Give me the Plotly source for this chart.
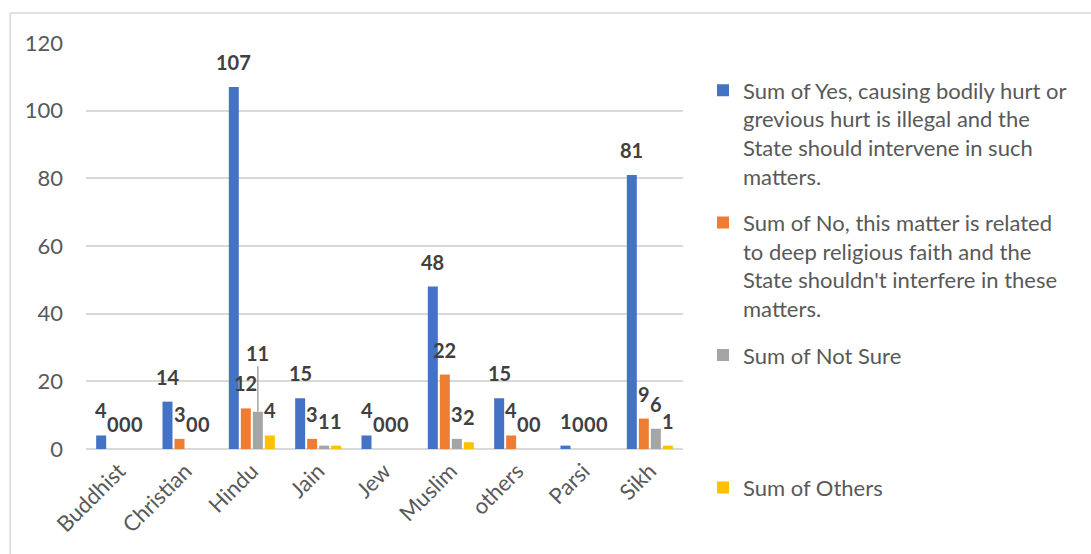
import plotly.graph_objects as go

# Survey responses by religion
religions = ["Buddhist", "Christian", "Hindu", "Jain", "Jew", "Muslim", "others", "Parsi", "Sikh"]
yes_vals = [4, 14, 107, 15, 4, 48, 15, 1, 81]
no_vals = [0, 3, 12, 3, 0, 22, 4, 0, 9]
not_sure_vals = [0, 0, 11, 1, 0, 3, 0, 0, 6]
others_vals = [0, 0, 4, 1, 0, 2, 0, 0, 1]

series_names = [
    "Sum of Yes, causing bodily hurt or<br>grevious hurt is illegal and the<br>State should intervene in such<br>matters.",
    "Sum of No, this matter is related<br>to deep religious faith and the<br>State shouldn't interfere in these<br>matters.",
    "Sum of Not Sure<br> <br> <br> ",
    "Sum of Others",
]
series_values = [yes_vals, no_vals, not_sure_vals, others_vals]
colors = ["#4472C4", "#ED7D31", "#A5A5A5", "#FFC000"]

FONT = "Lato, Noto Sans, sans-serif"
TEXT_GREY = "#595959"
LABEL_GREY = "#404040"
GRID = "#D9D9D9"

W, H = 1091, 554
M_L, M_R, M_T, M_B = 86, 408, 43, 105
Y_MAX = 120
px_per_unit = (H - M_T - M_B) / Y_MAX

fig = go.Figure()
for i, (name, vals, col) in enumerate(zip(series_names, series_values, colors)):
    fig.add_trace(go.Bar(
        x=religions, y=vals, name=name, marker=dict(color=col, line=dict(width=0)),
        legendgroup=f"g{i}",
    ))

# Data labels above each bar; a label that would collide with its left
# neighbour is lifted and tied back to its bar with a leader line.
n = len(series_values)
slot_px = 12
label_size = 20
digit_w = 0.58 * label_size
label_gap = 25
lift = 34
for ci, cat in enumerate(religions):
    prev = None
    for i, vals in enumerate(series_values):
        v = vals[ci]
        text = str(v)
        xoff = (i - (n - 1) / 2) * slot_px
        yc = -(v * px_per_unit) - label_gap  # label centre, px relative to baseline
        w = digit_w * len(text)
        raised = False
        if prev is not None:
            pxo, pyc, pw = prev
            if abs(xoff - pxo) < (w + pw) / 2 - 2 and abs(yc - pyc) < 18:
                raised = True
        font = dict(family=FONT, size=label_size, color=LABEL_GREY)
        if raised:
            fig.add_annotation(
                x=cat, y=v, xref="x", yref="y", text=f"<b>{text}</b>",
                showarrow=True, arrowhead=0, arrowwidth=1.5, arrowcolor="#A6A6A6",
                ax=0, ay=-(label_gap + lift), standoff=0, xshift=xoff, font=font,
            )
            yc -= lift
        else:
            fig.add_annotation(
                x=cat, y=v, xref="x", yref="y", text=f"<b>{text}</b>", showarrow=False,
                xshift=xoff, yshift=label_gap, yanchor="middle", font=font,
            )
        prev = (xoff, yc, w)

# Chart border
fig.add_shape(type="rect", xref="paper", yref="paper",
              x0=-0.127, x1=1.7, y0=-0.3, y1=1.0739,
              line=dict(color=GRID, width=1.5), fillcolor="rgba(0,0,0,0)", layer="below")

fig.update_layout(
    width=W, height=H,
    margin=dict(l=M_L, r=M_R, t=M_T, b=M_B),
    paper_bgcolor="white", plot_bgcolor="white",
    barmode="group", bargap=0.276, bargroupgap=0.167,
    font=dict(family=FONT, size=20, color=TEXT_GREY),
    showlegend=True,
    legend=dict(
        x=1.0335, y=0.935, xanchor="left", yanchor="top",
        traceorder="grouped", tracegroupgap=15, valign="top",
        font=dict(family=FONT, size=22, color=TEXT_GREY),
        bgcolor="rgba(0,0,0,0)", maxheight=540,
    ),
    xaxis=dict(
        tickangle=-45, showgrid=False, showline=False, zeroline=False,
        ticklabelstandoff=4,
        tickfont=dict(family=FONT, size=22, color=TEXT_GREY),
    ),
    yaxis=dict(
        range=[0, Y_MAX], dtick=20, showgrid=True, gridcolor=GRID, gridwidth=1.5,
        zeroline=True, zerolinecolor=GRID, zerolinewidth=1.5, showline=False,
        ticklabelstandoff=22,
        tickfont=dict(family=FONT, size=22, color=TEXT_GREY),
    ),
)

fig.write_html("out.html")
